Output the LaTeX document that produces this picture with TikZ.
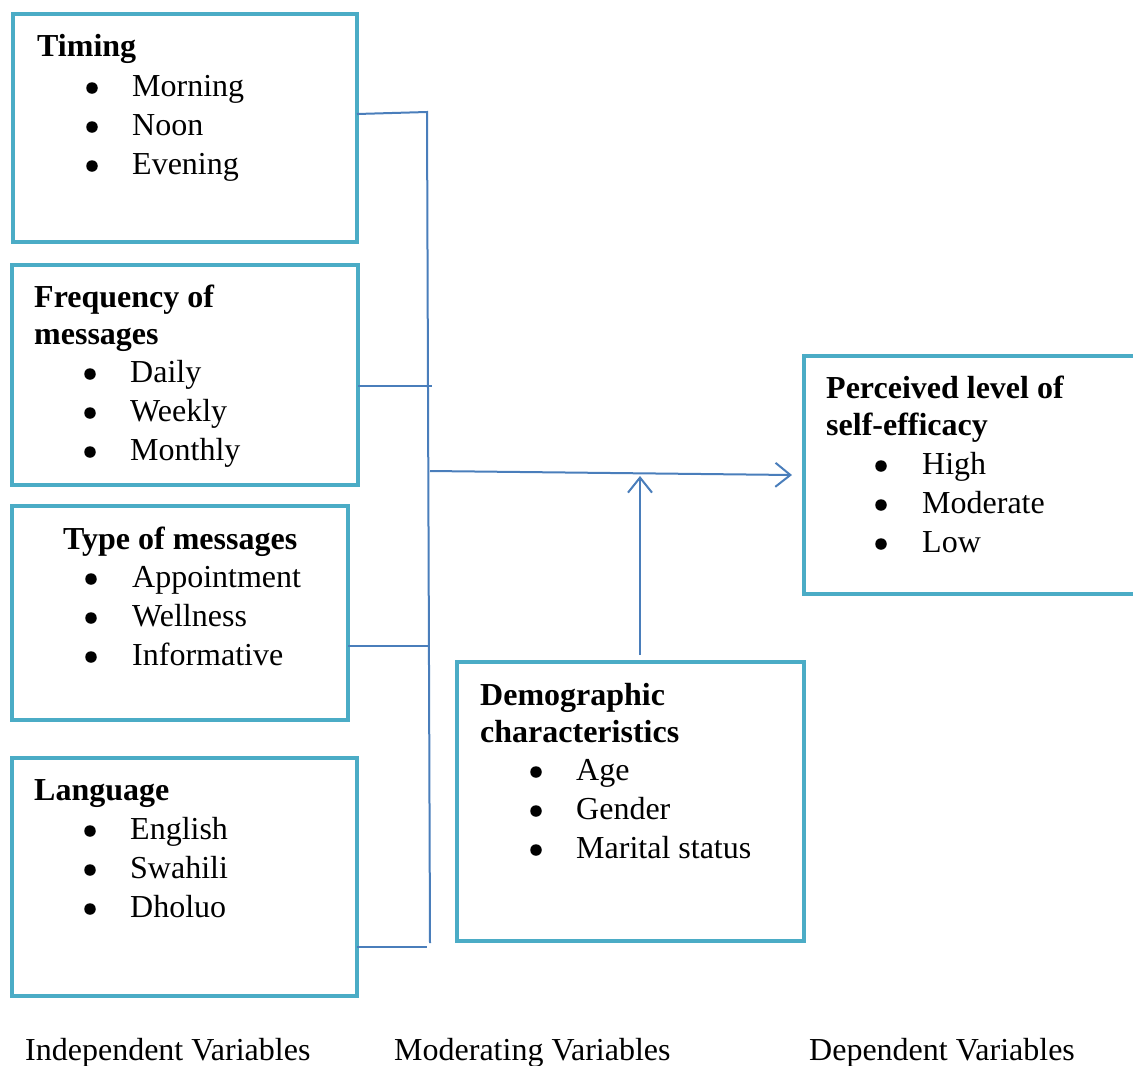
\documentclass[tikz,border=0pt]{standalone}
\usepackage{fontspec}
\setmainfont{Liberation Serif}
\usetikzlibrary{arrows.meta,calc}
\definecolor{boxblue}{HTML}{4BACC6}
\definecolor{linkblue}{HTML}{4A7EBB}
\begin{document}
\begin{tikzpicture}[x=1pt,y=-1pt,
  vbox/.style={draw=boxblue,line width=4pt,rectangle,inner sep=0pt,outer sep=0pt,anchor=north west},
  link/.style={draw=linkblue,line width=2pt},
  tip/.style={-{Straight Barb[length=15pt,width=24pt,line width=2pt]}},
  txt/.style={anchor=base west,inner sep=0pt,font=\fontsize{32}{39}\selectfont},
  hd/.style={txt,font=\fontsize{32}{39}\selectfont\bfseries},
  bul/.style={circle,fill=black,draw=none,inner sep=0pt,minimum size=11.5pt,yshift=8pt}]
\useasboundingbox (0,0) rectangle (1133,1066);
% boxes
\node[vbox,minimum width=344pt,minimum height=228pt] (timing) at (13,14) {};
\node[vbox,minimum width=346pt,minimum height=220pt] (freq) at (12,265) {};
\node[vbox,minimum width=336pt,minimum height=214pt] (type) at (12,506) {};
\node[vbox,minimum width=345pt,minimum height=238pt] (lang) at (12,758) {};
\node[vbox,minimum width=345pt,minimum height=238pt] (perc) at (804,356) {};
\node[vbox,minimum width=347pt,minimum height=279pt] (demo) at (457,662) {};
% Timing text
\node[hd] (th) at (37,56) {Timing};
\node[bul] (tb1) at (92,96) {}; \node[txt] (t1) at (132,96) {Morning};
\node[bul] (tb2) at (92,135) {}; \node[txt] (t2) at (132,135) {Noon};
\node[bul] (tb3) at (92,174) {}; \node[txt] (t3) at (132,174) {Evening};
% Frequency text
\node[hd] (fh1) at (34,307) {Frequency of};
\node[hd] (fh2) at (34,344) {messages};
\node[bul] (fb1) at (90,382) {}; \node[txt] (f1) at (130,382) {Daily};
\node[bul] (fb2) at (90,421) {}; \node[txt] (f2) at (130,421) {Weekly};
\node[bul] (fb3) at (90,460) {}; \node[txt] (f3) at (130,460) {Monthly};
% Type text
\node[hd] (yh) at (63,549) {Type of messages};
\node[bul] (yb1) at (91,587) {}; \node[txt] (y1) at (132,587) {Appointment};
\node[bul] (yb2) at (91,626) {}; \node[txt] (y2) at (132,626) {Wellness};
\node[bul] (yb3) at (91,665) {}; \node[txt] (y3) at (132,665) {Informative};
% Language text
\node[hd] (lh) at (34,800) {Language};
\node[bul] (lb1) at (90,839) {}; \node[txt] (l1) at (130,839) {English};
\node[bul] (lb2) at (90,878) {}; \node[txt] (l2) at (130,878) {Swahili};
\node[bul] (lb3) at (90,917) {}; \node[txt] (l3) at (130,917) {Dholuo};
% Perceived text
\node[hd] (ph1) at (826,398) {Perceived level of};
\node[hd] (ph2) at (826,435) {self-efficacy};
\node[bul] (pb1) at (881,474) {}; \node[txt] (p1) at (922,474) {High};
\node[bul] (pb2) at (881,513) {}; \node[txt] (p2) at (922,513) {Moderate};
\node[bul] (pb3) at (881,552) {}; \node[txt] (p3) at (922,552) {Low};
% Demographic text
\node[hd] (dh1) at (480,705) {Demographic};
\node[hd] (dh2) at (480,742) {characteristics};
\node[bul] (db1) at (536,780) {}; \node[txt] (d1) at (576,780) {Age};
\node[bul] (db2) at (536,819) {}; \node[txt] (d2) at (576,819) {Gender};
\node[bul] (db3) at (536,858) {}; \node[txt] (d3) at (576,858) {Marital status};
% bottom labels
\node[txt] (ind) at (25,1060) {Independent Variables};
\node[txt] (mod) at (394,1060) {Moderating Variables};
\node[txt] (dep) at (809,1060) {Dependent Variables};
% bus coordinates
\coordinate (btop) at (427,112);
\coordinate (bbot) at (430,943);
\coordinate (bf) at (432,386);
\coordinate (by) at (428,646);
\coordinate (bl) at (427,947);
\coordinate (bm) at (430,471);
\coordinate (mid) at (640,476);
% connectors
\draw[link] (timing.east |- 0,114) -- (btop) -- (bbot);
\draw[link] (freq.east |- bf) -- (bf);
\draw[link] (type.east |- by) -- (by);
\draw[link] (lang.east |- bl) -- (bl);
\draw[link,tip] (bm) -- ($(perc.west)+(-12,0)$);
\draw[link,tip] (demo.north -| mid) ++(0,-7) -- (mid);
\end{tikzpicture}
\end{document}
